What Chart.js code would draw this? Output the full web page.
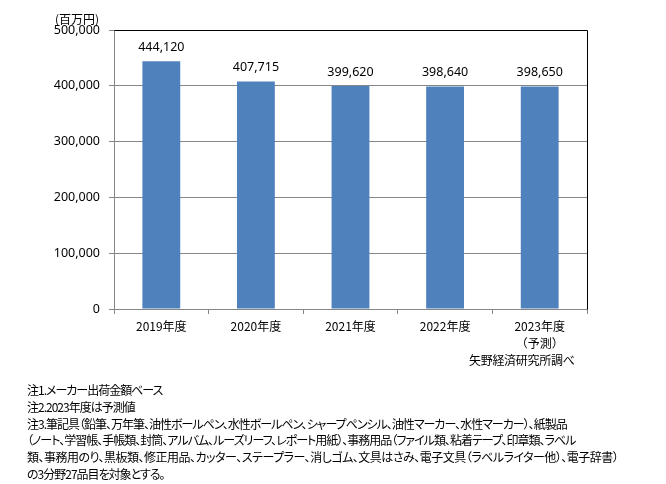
<!DOCTYPE html>
<html>
<head>
<meta charset="utf-8">
<script src="https://cdn.jsdelivr.net/npm/chart.js@4"></script>
<style>
  html, body { margin: 0; padding: 0; background: #fff; }
  #wrap { position: relative; width: 666px; height: 484px; }
  #chart { position: absolute; left: 0; top: 0; }
  .txt {
    position: absolute;
    font-family: "Noto Sans CJK JP", sans-serif;
    font-size: 12px;
    color: #000;
    white-space: nowrap;
    font-feature-settings: "palt";
  }
  #unit { left: 55px; top: 11px; line-height: 16px; }
  #source { left: 469px; top: 352px; line-height: 16px; letter-spacing: -0.3px; }
  #notes { left: 27px; top: 382px; line-height: 16.8px; letter-spacing: -1px; }
  #notes .wide { letter-spacing: -0.5px; }
</style>
</head>
<body>
<div id="wrap">
  <canvas id="chart" width="666" height="484"></canvas>
  <div class="txt" id="unit">(百万円)</div>
  <div class="txt" id="source">矢野経済研究所調べ</div>
  <div class="txt" id="notes">
    <div>注1.メーカー出荷金額ベース</div>
    <div>注2.2023年度は予測値</div>
    <div>注3.筆記具（鉛筆、万年筆、油性ボールペン、水性ボールペン、シャープペンシル、油性マーカー、水性マーカー）、紙製品</div>
    <div>（ノート、学習帳、手帳類、封筒、アルバム、ルーズリーフ、レポート用紙）、事務用品（ファイル類、粘着テープ、印章類、ラベル</div>
    <div class="wide">類、事務用のり、黒板類、修正用品、カッター、ステープラー、消しゴム、文具はさみ、電子文具（ラベルライター他）、電子辞書）</div>
    <div>の3分野27品目を対象とする。</div>
  </div>
</div>
<script>
const categories = [['2019年度'], ['2020年度'], ['2021年度'], ['2022年度'], ['2023年度', '（予測）']];
const marketSize = [444120, 407715, 399620, 398640, 398650];
const yTicks = [0, 100000, 200000, 300000, 400000, 500000];

const barColor = '#4F81BD';
const gridColor = '#868686';

// value labels above each bar
const valueLabels = {
    id: 'valueLabels',
    afterDatasetsDraw(chart) {
        const ctx = chart.ctx;
        const meta = chart.getDatasetMeta(0);
        ctx.save();
        ctx.font = '12.5px "Noto Sans", sans-serif';
        ctx.fillStyle = '#000';
        ctx.textAlign = 'center';
        ctx.textBaseline = 'middle';
        meta.data.forEach((bar, i) => {
            ctx.fillText(marketSize[i].toLocaleString('en-US'), bar.x, bar.y - 14);
        });
        ctx.restore();
    }
};

// black frame on top and right of the plot area
const plotFrame = {
    id: 'plotFrame',
    afterDraw(chart) {
        const a = chart.chartArea;
        const ctx = chart.ctx;
        ctx.save();
        ctx.strokeStyle = '#000';
        ctx.lineWidth = 1;
        ctx.beginPath();
        ctx.moveTo(Math.round(a.left) + 0.5, Math.round(a.top) + 0.5);
        ctx.lineTo(Math.round(a.right) + 0.5, Math.round(a.top) + 0.5);
        ctx.lineTo(Math.round(a.right) + 0.5, Math.round(a.bottom) + 0.5);
        ctx.stroke();
        ctx.restore();
    }
};

new Chart(document.getElementById('chart'), {
    type: 'bar',
    data: {
        labels: categories,
        datasets: [{
            data: marketSize,
            backgroundColor: barColor,
            barPercentage: 0.4,
            categoryPercentage: 1
        }]
    },
    options: {
        responsive: false,
        animation: false,
        layout: { padding: { left: 0, top: 30, right: 79, bottom: 115 } },
        plugins: {
            legend: { display: false },
            tooltip: { enabled: false }
        },
        scales: {
            x: {
                afterFit(scale) { scale.height = 60; },
                grid: { display: true, drawOnChartArea: false, offset: true, color: gridColor, tickLength: 5 },
                border: { color: gridColor },
                ticks: {
                    color: '#000',
                    padding: 4,
                    maxRotation: 0,
                    font: { family: '"Noto Sans CJK JP", sans-serif', size: 12, lineHeight: 1.4 }
                }
            },
            y: {
                min: 0,
                max: 500000,
                afterFit(scale) { scale.width = 114; },
                afterBuildTicks(scale) { scale.ticks = yTicks.map(v => ({ value: v })); },
                grid: { color: gridColor, tickLength: 5 },
                border: { color: gridColor },
                ticks: {
                    color: '#000',
                    padding: 9,
                    font: { family: '"Noto Sans", sans-serif', size: 12.5 },
                    callback: v => v.toLocaleString('en-US')
                }
            }
        }
    },
    plugins: [valueLabels, plotFrame]
});
</script>
</body>
</html>
